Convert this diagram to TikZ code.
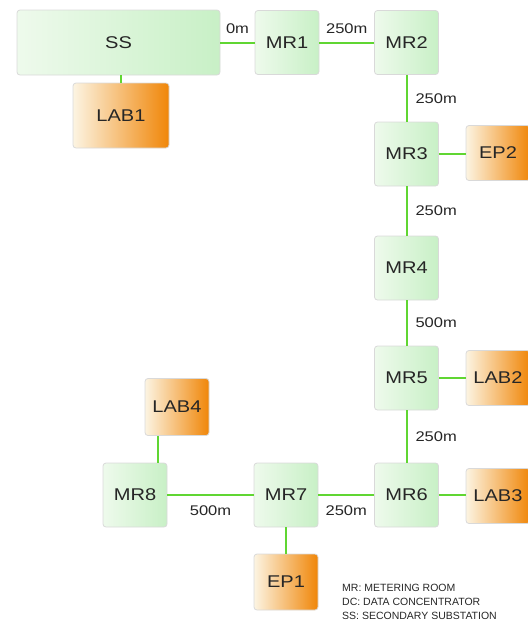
\documentclass[tikz,border=0pt]{standalone}
\usepackage{fontspec}
\setmainfont{Liberation Sans}
\newfontfamily\widefont[FakeStretch=1.18]{Liberation Sans}
\definecolor{mrleft}{RGB}{238,250,236}
\definecolor{mrright}{RGB}{200,240,198}
\definecolor{lableft}{RGB}{252,244,226}
\definecolor{labright}{RGB}{240,134,8}
\definecolor{linkgreen}{RGB}{96,214,50}

\begin{document}
\begin{tikzpicture}[x=1pt, y=-1pt,
    box/.style={rounded corners=3pt, draw=black!15, line width=0.8pt, minimum width=64pt, minimum height=64pt, font=\widefont\fontsize{17}{19}\selectfont, text=black!85},
    mr/.style={box, left color=mrleft, right color=mrright},
    lab/.style={box, left color=lableft, right color=labright, minimum height=55pt},
    link/.style={line width=2pt, linkgreen},
    len/.style={font=\widefont\fontsize{14}{16}\selectfont, text=black!85, inner sep=2pt}]
    % taille de la figure
    \useasboundingbox (0,0) rectangle (528,625);

    % sous-station et salles de comptage
    \node[mr, minimum width=203pt, minimum height=65pt] (ss) at (118.5,42.5) {SS};
    \node[mr] (mr1) at (287,42.5) {MR1};
    \node[mr] (mr2) at (406.5,42.5) {MR2};
    \node[mr] (mr3) at (406.5,154) {MR3};
    \node[mr] (mr4) at (406.5,268) {MR4};
    \node[mr] (mr5) at (406.5,378) {MR5};
    \node[mr] (mr6) at (406.5,495) {MR6};
    \node[mr] (mr7) at (286,495) {MR7};
    \node[mr] (mr8) at (135,495) {MR8};

    % laboratoires et points d'extremite
    \node[lab, minimum width=96pt, minimum height=65pt] (lab1) at (121,115.5) {LAB1};
    \node[lab] (ep2) at (498,153) {EP2};
    \node[lab] (lab2) at (498,378) {LAB2};
    \node[lab] (lab3) at (498,496) {LAB3};
    \node[lab, minimum height=57pt] (lab4) at (177,407) {LAB4};
    \node[lab, minimum height=56pt] (ep1) at (286,582) {EP1};

    % liaisons avec longueurs
    \draw[link] (ss.east) -- node[len, above=6pt] {0m} (mr1.west);
    \draw[link] (mr1.east) -- node[len, above=6pt] {250m} (mr2.west);
    \draw[link] (mr2.south) -- node[len, right=6pt] {250m} (mr3.north);
    \draw[link] (mr3.south) -- node[len, right=6pt] {250m} (mr4.north);
    \draw[link] (mr4.south) -- node[len, right=6pt] {500m} (mr5.north);
    \draw[link] (mr5.south) -- node[len, right=6pt] {250m} (mr6.north);
    \draw[link] (mr6.west) -- node[len, below=8pt] {250m} (mr7.east);
    \draw[link] (mr7.west) -- node[len, below=8pt] {500m} (mr8.east);

    % liaisons sans longueur
    \draw[link] (lab1.north) -- (lab1.north |- ss.south);
    \draw[link] (mr3.east) -- (mr3.east -| ep2.west);
    \draw[link] (mr5.east) -- (lab2.west);
    \draw[link] (mr6.east) -- (mr6.east -| lab3.west);
    \draw[link] ([xshift=13pt]lab4.south west) -- ([xshift=13pt]lab4.south west |- mr8.north);
    \draw[link] (mr7.south) -- (ep1.north);

    % legende
    \node[anchor=west, align=left, inner sep=0pt, font=\fontsize{10.5}{14}\selectfont, text=black!85] (legend) at (342,602)
        {MR: METERING ROOM\\DC: DATA CONCENTRATOR\\SS: SECONDARY SUBSTATION};
\end{tikzpicture}
\end{document}
